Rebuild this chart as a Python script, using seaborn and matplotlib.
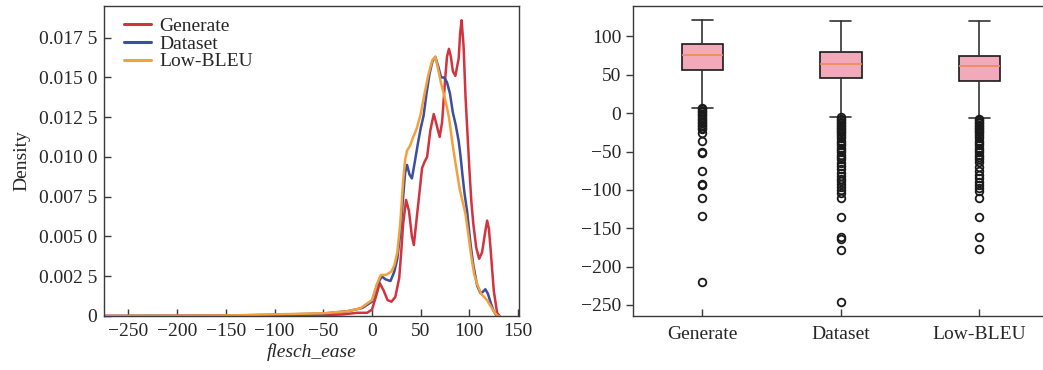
import matplotlib
matplotlib.use("Agg")
import matplotlib.pyplot as plt
import pandas as pd
import seaborn as sns
from matplotlib.ticker import FuncFormatter

# ---------------- data: density curves ----------------
series_names = ["Generate", "Dataset", "Low-BLEU"]
series_colors = ["#d1343f", "#3b4ea0", "#f4a13c"]

gen_x = [-275, -100, -50, -30, -15, -5, 0, 4, 8, 12, 16, 20, 24, 28, 30, 32, 35, 38, 41, 43,
         46, 49.7, 51.4, 54, 56.6, 60, 63.4, 66, 69.5, 72, 75, 77, 79, 81, 83, 85.6, 89, 90.5,
         92, 94, 96, 98, 100, 102, 104, 107, 110, 113, 116, 118.2, 120, 122, 125, 128.4, 131]
gen_d = [0, 0.00002, 0.00005, 0.0001, 0.0002, 0.0002, 0.0004, 0.0012, 0.00207, 0.0016, 0.0010,
         0.0009, 0.0012, 0.0024, 0.0040, 0.0058, 0.0073, 0.0066, 0.0050, 0.00446,
         0.0062, 0.0083, 0.0093, 0.0097, 0.0100, 0.0117, 0.0127, 0.0121, 0.01126, 0.0122, 0.0148,
         0.0163, 0.0168, 0.0163, 0.0154, 0.0151, 0.0162, 0.0178,
         0.0186, 0.0170, 0.0138, 0.0115, 0.0092, 0.0072, 0.0058, 0.0043, 0.0036, 0.0040, 0.0052,
         0.0060, 0.0055, 0.0040, 0.0016, 0.0002, 0.0]

ds_x = [-275, -150, -100, -50, -25, -10, 0, 5, 10, 14, 19, 23, 26, 29, 32, 34, 36, 38.5, 41,
        44, 47, 50, 53, 56, 59, 62, 65, 68, 71, 74, 77, 80, 83, 86, 89, 91, 93, 95, 97.6,
        101, 104, 108, 111.3, 113.5, 116.4, 119, 122, 125, 128, 131]
ds_d = [0, 0.00002, 0.00008, 0.00015, 0.0003, 0.0005, 0.0009, 0.0019, 0.0025, 0.0023, 0.0022,
        0.0028, 0.0036, 0.0052, 0.0075, 0.0090, 0.0095, 0.0089, 0.00865,
        0.0097, 0.0108, 0.0118, 0.0126, 0.0140, 0.0152, 0.0160, 0.0163, 0.0157, 0.0150, 0.0150,
        0.0147, 0.0140, 0.0128, 0.0120, 0.0110, 0.0100, 0.0088, 0.0077, 0.0066,
        0.0046, 0.0032, 0.0019, 0.00144, 0.0015, 0.00168, 0.0014, 0.0008, 0.0003, 0.0, 0.0]

lb_x = [-275, -150, -100, -50, -25, -12, 0, 5, 9, 15, 20, 23, 26, 29, 32, 34, 36, 39, 42,
        46, 50, 54, 58, 62, 65, 68, 71, 74, 77, 79, 82.5, 86, 90, 93, 96, 99, 102, 105, 108,
        112, 118, 122, 126, 129, 131]
lb_d = [0, 0.00003, 0.0001, 0.00017, 0.0003, 0.00048, 0.0010, 0.0020, 0.00257, 0.0026, 0.0028,
        0.0032, 0.0040, 0.0058, 0.0085, 0.0098, 0.0104, 0.0107, 0.0112,
        0.0118, 0.0127, 0.0140, 0.0152, 0.0161, 0.0163, 0.0155, 0.0146, 0.0139, 0.0131, 0.0125,
        0.0109, 0.0095, 0.0080, 0.0072, 0.0064, 0.0051, 0.0037, 0.0026, 0.0020,
        0.0014, 0.0010, 0.0006, 0.0002, 0.0, 0.0]

x_ticks = [-250, -200, -150, -100, -50, 0, 50, 100, 150]
y_ticks = [0, 0.0025, 0.005, 0.0075, 0.01, 0.0125, 0.015, 0.0175]

# ---------------- data: box plot summary ----------------
box_median = [75.5, 63.9, 61.3]
box_q1 = [56.5, 45.3, 42.2]
box_q3 = [90.7, 79.8, 75.1]
whisker_low = [7.3, -4.4, -6.1]
whisker_high = [121.3, 120.4, 120.4]
fliers_generate = [7, 5, 3, 1, -1, -3, -5, -7, -9, -11, -13, -15, -17, -19, -21, -26, -36,
                   -50, -52, -76, -92, -94, -110, -134, -220]
fliers_dataset = [-5, -7, -9, -11, -13, -15, -17, -19, -21, -23, -25, -27, -30, -33, -36, -39,
                  -42, -45, -48, -51, -54, -57, -60, -65, -69, -73, -78, -82, -86, -89, -93,
                  -96, -100, -104, -110, -135, -162, -164, -178, -246]
fliers_lowbleu = [-7, -9, -11, -13, -15, -17, -19, -21, -23, -25, -27, -30, -33, -36, -39, -42,
                  -45, -48, -51, -54, -57, -60, -64, -70, -75, -80, -85, -90, -94, -98, -102,
                  -110, -136, -161, -177]
box_y_ticks = [-250, -200, -150, -100, -50, 0, 50, 100]

# ---------------- style ----------------
sns.set_theme(style="ticks")
plt.rcParams["font.family"] = ["Liberation Serif", "DejaVu Serif"]
plt.rcParams["axes.unicode_minus"] = True
FS = 14
spine_col = "#3a3a3a"

fig = plt.figure(figsize=(10.43, 3.70), dpi=100)
ax1 = fig.add_axes([0.0997, 0.146, 0.398, 0.838])
ax2 = fig.add_axes([0.607, 0.146, 0.3984, 0.838])

# ---------------- left: density curves ----------------
frames = []
for name, xs, ds in zip(series_names, [gen_x, ds_x, lb_x], [gen_d, ds_d, lb_d]):
    frames.append(pd.DataFrame({"flesch_ease": xs, "Density": ds, "set": name}))
df = pd.concat(frames, ignore_index=True)

sns.lineplot(data=df, x="flesch_ease", y="Density", hue="set",
             palette=dict(zip(series_names, series_colors)), hue_order=series_names,
             estimator=None, sort=False, lw=1.8, ax=ax1)

ax1.set_xlim(-275, 151)
ax1.set_ylim(0, 0.0195)
ax1.set_xticks(x_ticks)
ax1.set_yticks(y_ticks)


def dens_fmt(v, pos):
    if abs(v) < 1e-12:
        return "0"
    s = f"{v:.4f}"
    return s[:-1] + " " + s[-1]


ax1.yaxis.set_major_formatter(FuncFormatter(dens_fmt))
ax1.set_xlabel("flesch_ease", fontsize=FS, style="italic", labelpad=2)
ax1.set_ylabel("Density", fontsize=FS, labelpad=6)
ax1.tick_params(axis="both", direction="in", labelsize=FS, length=5, width=1,
                color=spine_col, pad=5)
leg = ax1.legend(loc="upper left", frameon=False, fontsize=FS, handlelength=1.4,
                 labelspacing=0.0, handletextpad=0.4, borderaxespad=0.2,
                 bbox_to_anchor=(0.02, 1.0))
for line in leg.get_lines():
    line.set_linewidth(2.2)

# ---------------- right: box plots ----------------
all_fliers = [fliers_generate, fliers_dataset, fliers_lowbleu]
stats = []
for i, name in enumerate(series_names):
    stats.append(dict(label=name, med=box_median[i], q1=box_q1[i], q3=box_q3[i],
                      whislo=whisker_low[i], whishi=whisker_high[i], fliers=all_fliers[i]))

ax2.bxp(stats, positions=[1, 2, 3], widths=0.3, patch_artist=True, showfliers=True,
        boxprops=dict(facecolor="#f2a9b9", edgecolor="#1a1a1a", linewidth=1.2),
        medianprops=dict(color="#f08a50", linewidth=1.2),
        whiskerprops=dict(color="#333333", linewidth=1.2),
        capprops=dict(color="#333333", linewidth=1.2),
        flierprops=dict(marker="o", markerfacecolor="none", markeredgecolor="#1a1a1a",
                        markersize=5.5, markeredgewidth=1.3))

ax2.set_xlim(0.5, 3.5)
ax2.set_ylim(-264.4, 139.8)
ax2.set_yticks(box_y_ticks)
ax2.set_xticks([1, 2, 3])
ax2.set_xticklabels(series_names)
ax2.tick_params(axis="y", direction="out", labelsize=FS, length=5, width=1, color=spine_col)
ax2.tick_params(axis="x", direction="in", labelsize=FS, length=5, width=1, color=spine_col,
                pad=7)

for ax in (ax1, ax2):
    for sp in ax.spines.values():
        sp.set_visible(True)
        sp.set_color(spine_col)
        sp.set_linewidth(1.0)
    ax.grid(False)
    ax.set_facecolor("white")

fig.savefig("out.png", dpi=100, facecolor="white")
